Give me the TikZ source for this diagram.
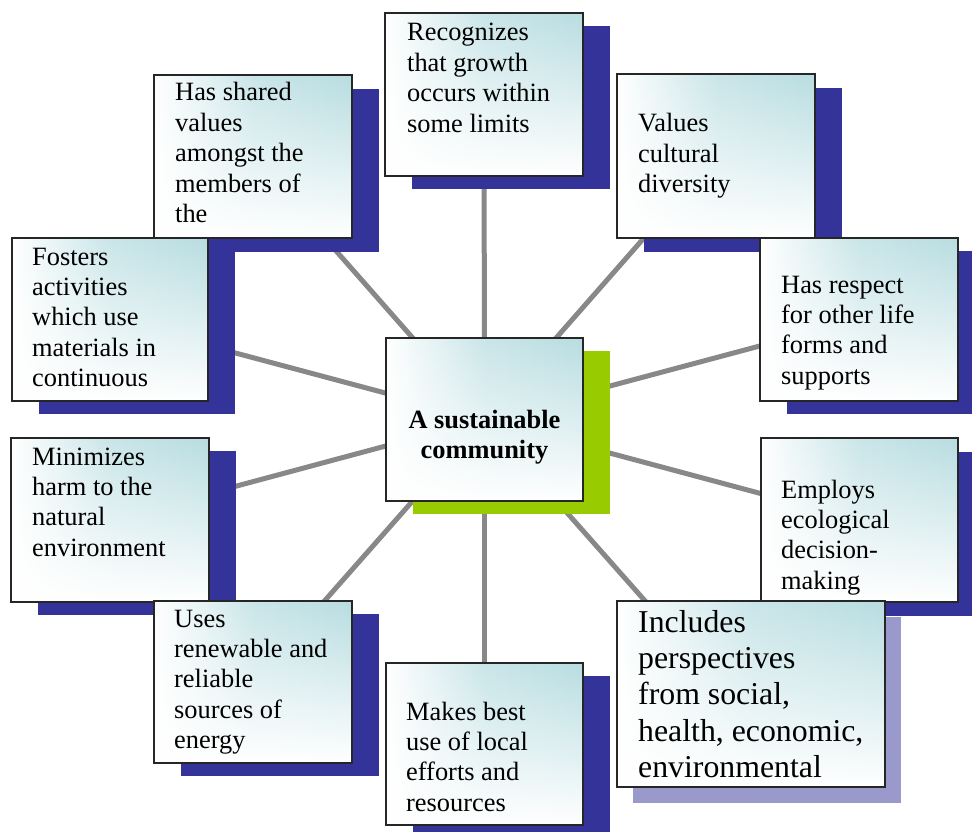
\documentclass[tikz,border=0pt]{standalone}
\usepackage{fontspec}
\setmainfont{Liberation Serif}
\usetikzlibrary{fit,fadings}
\definecolor{cardcyan}{RGB}{184,221,225}
\definecolor{navyshadow}{RGB}{51,51,153}
\definecolor{lilacshadow}{RGB}{153,153,204}
\definecolor{limeshadow}{RGB}{153,204,0}
\definecolor{linkgray}{RGB}{136,136,136}
\tikzfading[name=cardfade, top color=transparent!0, middle color=transparent!15, bottom color=transparent!100]
\tikzset{
  cardarea/.style={inner sep=0pt, outer sep=0pt},
  cardedge/.style={draw=black!85, line width=1.8pt},
  link/.style={draw=linkgray, line width=5pt},
  cardtext/.style={anchor=base west, inner sep=0pt, font=\fontsize{26.4}{30.4}\selectfont},
  bigtext/.style={anchor=base west, inner sep=0pt, font=\fontsize{31.8}{36.4}\selectfont},
  hubtext/.style={anchor=base, inner sep=0pt, font=\fontsize{26.4}{30.4}\selectfont\bfseries},
}
\newcommand\cardbody[4]{%
  \fill[#2] ([shift={(#3,#4)}]#1.north west) rectangle ([shift={(#3,#4)}]#1.south east);
  \fill[white] (#1.north west) rectangle (#1.south east);
  \shade[left color=white, right color=cardcyan, middle color=cardcyan!75, path fading=cardfade] (#1.north west) rectangle (#1.south east);
  \draw[cardedge] (#1.north west) rectangle (#1.south east);
}
\begin{document}
\begin{tikzpicture}[x=1pt,y=-1pt]
\clip (0,0) rectangle (972,832);
\fill[white] (0,0) rectangle (972,832);
% box areas
\node[cardarea, fit={(385,13) (583,176)}] (rec) {};
\node[cardarea, fit={(154,75) (352,238)}] (shv) {};
\node[cardarea, fit={(617,74) (815,238)}] (val) {};
\node[cardarea, fit={(12,238) (208,401)}] (fos) {};
\node[cardarea, fit={(760,238) (958,401)}] (res) {};
\node[cardarea, fit={(11,438) (209,602)}] (min) {};
\node[cardarea, fit={(761,438) (958,602)}] (emp) {};
\node[cardarea, fit={(154,601) (352,763)}] (use) {};
\node[cardarea, fit={(386,663) (583,825)}] (mak) {};
\node[cardarea, fit={(617,601) (885,787)}] (inc) {};
\node[cardarea, fit={(386,338) (583,501)}] (ctr) {};
\coordinate (incend) at (700,663);
% connectors
\foreach \n in {rec,shv,val,fos,res,min,emp,use,mak}
  \draw[link] (ctr.center) -- (\n.center);
\draw[link] (ctr.center) -- (incend);
% boxes
\cardbody{rec}{navyshadow}{27}{13}
\node[cardtext] (trec) at (407,41) {\parbox[t]{250pt}{\raggedright Recognizes\\that growth\\occurs within\\some limits}};
\cardbody{shv}{navyshadow}{27}{14}
\node[cardtext] (tshv) at (175,101) {\parbox[t]{250pt}{\raggedright Has shared\\values\\amongst the\\members of\\the}};
\cardbody{val}{navyshadow}{27}{14}
\node[cardtext] (tval) at (638,132) {\parbox[t]{250pt}{\raggedright Values\\cultural\\diversity}};
\cardbody{fos}{navyshadow}{27}{13}
\node[cardtext] (tfos) at (32,265) {\parbox[t]{250pt}{\raggedright Fosters\\activities\\which use\\materials in\\continuous}};
\cardbody{res}{navyshadow}{27}{13}
\node[cardtext] (tres) at (781,293) {\parbox[t]{250pt}{\raggedright Has respect\\for other life\\forms and\\supports}};
\cardbody{min}{navyshadow}{27}{13}
\node[cardtext] (tmin) at (32,465) {\parbox[t]{250pt}{\raggedright Minimizes\\harm to the\\natural\\environment}};
\cardbody{emp}{navyshadow}{27}{14}
\node[cardtext] (temp) at (781,498) {\parbox[t]{250pt}{\raggedright Employs\\ecological\\decision-\\making}};
\cardbody{use}{navyshadow}{27}{13}
\node[cardtext] (tuse) at (174,627) {\parbox[t]{250pt}{\raggedright Uses\\renewable and\\reliable\\sources of\\energy}};
\cardbody{mak}{navyshadow}{27}{13}
\node[cardtext] (tmak) at (406,720) {\parbox[t]{250pt}{\raggedright Makes best\\use of local\\efforts and\\resources}};
\cardbody{inc}{lilacshadow}{16}{16}
\node[bigtext] (tinc) at (638,632) {\parbox[t]{300pt}{\raggedright Includes\\perspectives\\from social,\\health, economic,\\environmental}};
\cardbody{ctr}{limeshadow}{27}{13}
\node[hubtext] (tctr) at (484.5,428) {\parbox[t]{200pt}{\centering A sustainable\\community}};
\end{tikzpicture}
\end{document}
